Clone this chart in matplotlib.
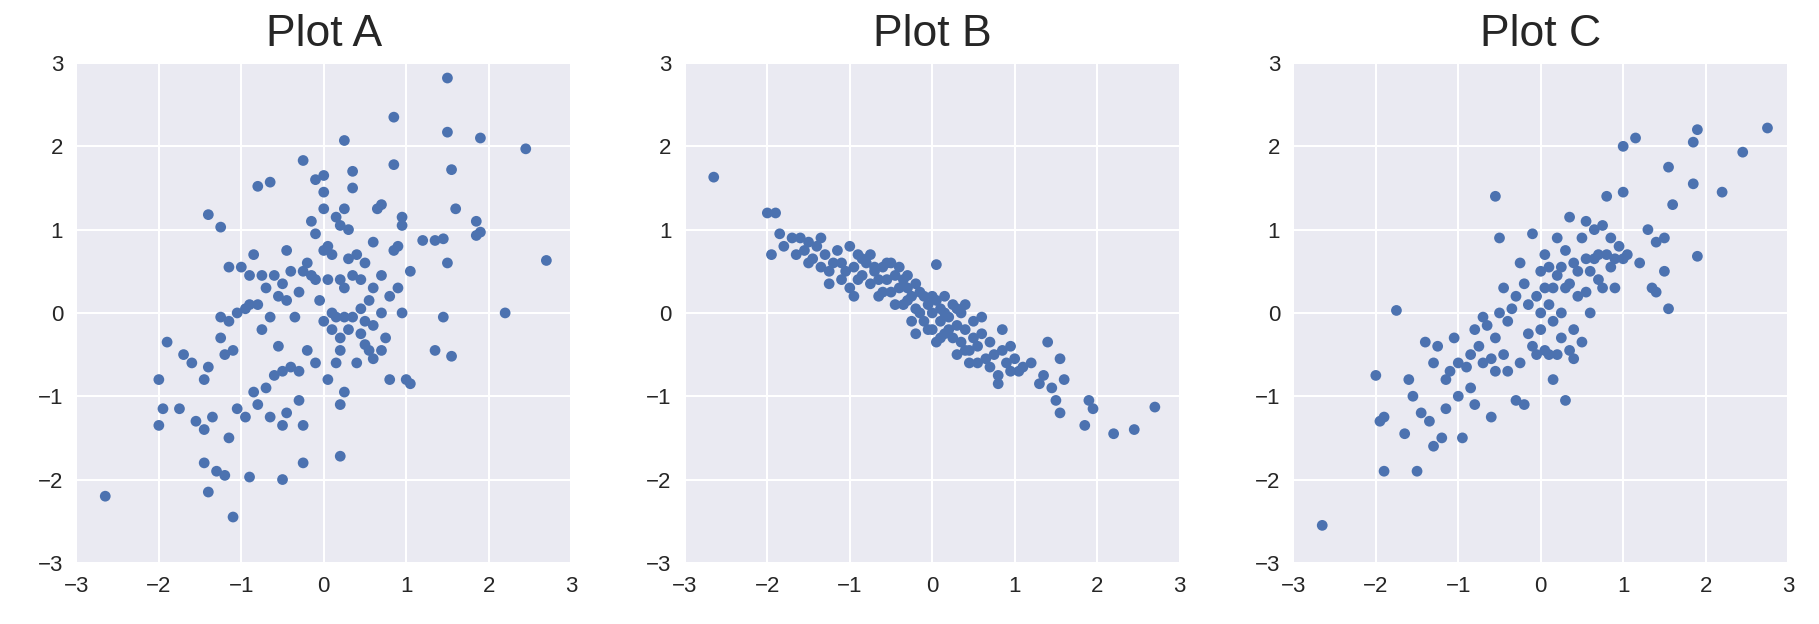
import matplotlib
matplotlib.use("Agg")
import matplotlib.pyplot as plt
import seaborn as sns

# ==============================================================================
# DATA
# ==============================================================================

a_pts = [(-2.65,-2.2),(-1.1,-2.45),(-1.4,-2.15),(-1.45,-1.8),(-1.3,-1.9),(-1.2,-1.95),(-0.9,-1.97),
         (-0.5,-2.0),(-0.25,-1.8),(0.2,-1.72),(-2.0,-1.35),(-1.95,-1.15),(-1.75,-1.15),(-1.55,-1.3),
         (-1.45,-1.4),(-1.35,-1.25),(-1.15,-1.5),(-1.05,-1.15),(-0.95,-1.25),(-0.8,-1.1),(-0.85,-0.95),
         (-0.7,-0.9),(-0.65,-1.25),(-0.5,-1.35),(-0.45,-1.2),(-0.3,-1.05),(-0.25,-1.35),(-0.4,-0.65),
         (-0.5,-0.7),(-0.6,-0.75),(-0.3,-0.7),(-0.2,-0.45),(-0.1,-0.6),(0.05,-0.8),(-2.0,-0.8),(-1.9,-0.35),
         (-1.7,-0.5),(-1.6,-0.6),(-1.4,-0.65),(-1.2,-0.5),(-1.1,-0.45),(-1.25,-0.3),(-1.15,-0.1),(-1.05,0.0),
         (-0.9,0.1),(-0.95,0.05),(-0.75,-0.2),(-0.65,-0.05),(-0.55,0.2),(-0.45,0.15),(-0.35,-0.05),(-0.3,0.25),
         (-1.25,-0.05),(-1.45,-0.8),(-1.4,1.18),(-1.25,1.03),(-1.15,0.55),(-1.0,0.55),(-0.9,0.45),(-0.85,0.7),
         (-0.75,0.45),(-0.6,0.45),(-0.5,0.35),(-0.45,0.75),(-0.4,0.5),(-0.8,1.52),(-0.65,1.57),(-0.25,1.83),
         (-0.1,1.6),(-0.15,1.1),(-0.1,0.95),(0.0,0.75),(0.05,0.8),(0.1,0.7),(-0.2,0.6),(-0.25,0.5),(-0.15,0.45),
         (-0.1,0.4),(0.0,1.25),(0.0,1.45),(0.0,1.65),(0.15,1.15),(0.2,1.05),(0.25,1.25),(0.3,1.0),(0.35,1.5),
         (0.35,1.7),(0.25,2.07),(0.85,2.35),(0.35,0.45),(0.3,0.65),(0.25,0.3),(0.45,0.4),(0.5,0.6),(0.6,0.85),
         (0.65,1.25),(0.7,1.3),(0.85,0.75),(0.9,0.8),(0.85,1.78),(0.95,1.15),(0.95,1.05),(1.05,0.5),(1.2,0.87),
         (1.35,0.87),(1.45,0.89),(1.5,0.6),(1.5,2.17),(1.55,1.72),(1.6,1.25),(1.85,1.1),(1.85,0.93),(1.9,0.97),
         (1.9,2.1),(1.5,2.82),(2.45,1.97),(2.7,0.63),(2.2,0.0),(1.45,-0.05),(1.35,-0.45),(1.55,-0.52),(1.0,-0.8),
         (1.05,-0.85),(0.7,-0.45),(0.75,-0.3),(0.55,-0.45),(0.5,-0.38),(0.45,-0.25),(0.35,-0.05),(0.25,-0.05),
         (0.15,-0.05),(0.1,0.0),(0.0,-0.1),(0.2,-0.3),(0.2,-0.45),(0.15,-0.6),(0.25,-0.95),(0.2,-1.1),(0.4,-0.6),
         (0.5,-0.1),(0.6,-0.15),(0.7,0.0),(0.8,0.2),(0.95,0.0),(0.9,0.3),(0.7,0.45),(0.6,0.3),(0.45,0.05),
         (-0.05,0.15),(0.05,0.4),(0.2,0.4),(0.4,0.7),(0.55,0.15),(0.3,-0.2),(0.6,-0.55),(0.8,-0.8),(-0.8,0.1),
         (-0.7,0.3),(-0.55,-0.4),(0.1,-0.2)]

b_pts = [(-2.65,1.63),(-2.0,1.2),(-1.9,1.2),(-1.95,0.7),(-1.85,0.95),(-1.7,0.9),(-1.6,0.9),(-1.55,0.75),
         (-1.5,0.85),(-1.45,0.65),(-1.4,0.8),(-1.35,0.55),(-1.3,0.7),(-1.25,0.5),(-1.2,0.6),(-1.15,0.75),
         (-1.1,0.6),(-1.05,0.5),(-1.0,0.8),(-1.0,0.3),(-0.95,0.55),(-0.9,0.7),(-0.85,0.45),(-0.8,0.6),
         (-0.75,0.35),(-0.75,0.7),(-0.7,0.5),(-0.65,0.2),(-0.6,0.55),(-0.55,0.4),(-0.5,0.6),(-0.5,0.25),
         (-0.45,0.45),(-0.4,0.3),(-0.4,0.55),(-0.35,0.1),(-0.3,0.3),(-0.3,0.45),(-0.25,0.2),(-0.2,0.05),
         (-0.2,0.35),(-0.15,0.0),(-0.1,0.2),(-0.1,-0.1),(-0.05,0.1),(0.0,0.0),(0.0,-0.2),(0.05,0.15),(0.05,0.58),
         (0.1,-0.1),(0.1,0.05),(0.15,-0.25),(0.15,0.2),(0.2,-0.05),(0.25,0.1),(0.25,-0.3),(0.3,-0.15),(0.35,0.0),
         (0.35,-0.35),(0.4,-0.2),(0.45,-0.45),(0.45,-0.6),(0.5,-0.3),(0.5,-0.1),(0.55,-0.4),(0.6,-0.25),
         (0.65,-0.55),(0.7,-0.35),(0.75,-0.5),(0.8,-0.75),(0.8,-0.85),(0.85,-0.45),(0.9,-0.6),(0.95,-0.7),
         (1.0,-0.55),(1.05,-0.7),(1.2,-0.6),(1.3,-0.85),(1.35,-0.75),(1.4,-0.35),(1.45,-0.9),(1.5,-1.05),
         (1.55,-0.55),(1.55,-1.2),(1.6,-0.8),(1.85,-1.35),(1.9,-1.05),(1.95,-1.15),(2.2,-1.45),(2.45,-1.4),
         (2.7,-1.13),(-1.8,0.8),(-1.65,0.7),(-1.35,0.9),(-1.25,0.35),(-1.1,0.4),(-0.95,0.2),(-0.85,0.65),
         (-0.7,0.55),(-0.65,0.4),(-0.6,0.25),(-0.55,0.6),(-0.45,0.1),(-0.35,0.4),(-0.25,-0.1),(-0.15,0.25),
         (-0.05,-0.2),(0.0,0.2),(0.1,-0.3),(0.2,-0.2),(0.3,0.05),(0.4,-0.45),(0.55,-0.6),(0.6,-0.05),(0.7,-0.65),
         (0.85,-0.2),(0.95,-0.4),(1.1,-0.65),(0.05,-0.35),(-0.3,0.15),(0.15,0.0),(0.3,-0.5),(-0.9,0.4),
         (-1.5,0.6),(-0.2,-0.25),(0.4,0.1)]

c_pts = [(-2.65,-2.55),(-2.0,-0.75),(-1.95,-1.3),(-1.9,-1.9),(-1.9,-1.25),(-1.75,0.03),(-1.65,-1.45),
         (-1.55,-1.0),(-1.5,-1.9),(-1.45,-1.2),(-1.4,-0.35),(-1.35,-1.3),(-1.3,-1.6),(-1.25,-0.4),(-1.2,-1.5),
         (-1.15,-0.8),(-1.1,-0.7),(-1.05,-0.3),(-1.0,-1.0),(-1.0,-0.6),(-0.95,-1.5),(-0.9,-0.65),(-0.85,-0.5),
         (-0.8,-1.1),(-0.75,-0.4),(-0.7,-0.6),(-0.65,-0.15),(-0.6,-1.25),(-0.55,-0.3),(-0.55,1.4),(-0.5,0.9),
         (-0.5,0.0),(-0.45,-0.5),(-0.4,-0.1),(-0.35,0.05),(-0.3,-1.05),(-0.3,0.2),(-0.25,-0.6),(-0.2,-1.1),
         (-0.2,0.35),(-0.15,-0.25),(-0.1,-0.4),(-0.1,0.95),(-0.05,0.2),(0.0,-0.2),(0.0,0.5),(0.05,0.7),
         (0.05,-0.45),(0.1,0.1),(0.1,-0.5),(0.15,0.3),(0.15,-0.8),(0.2,0.45),(0.2,-0.5),(0.25,0.55),(0.25,0.0),
         (0.3,-1.05),(0.3,0.75),(0.3,0.3),(0.35,-0.45),(0.35,1.15),(0.4,0.6),(0.4,-0.2),(0.45,0.2),(0.5,0.9),
         (0.55,1.1),(0.6,0.5),(0.65,0.65),(0.7,0.4),(0.75,1.05),(0.75,0.3),(0.8,0.7),(0.8,1.4),(0.85,0.55),
         (0.9,0.65),(0.95,0.8),(1.0,2.0),(1.0,1.45),(1.05,0.7),(1.15,2.1),(1.2,0.6),(1.3,1.0),(1.35,0.3),
         (1.4,0.25),(1.4,0.85),(1.5,0.9),(1.5,0.5),(1.55,1.75),(1.55,0.05),(1.6,1.3),(1.85,2.05),(1.9,2.2),
         (1.85,1.55),(1.9,0.68),(2.2,1.45),(2.45,1.93),(2.75,2.22),(-1.3,-0.6),(-1.15,-1.15),(-0.85,-0.9),
         (-0.7,-0.05),(-0.6,-0.55),(-0.45,0.3),(-0.4,-0.7),(-0.25,0.6),(-0.15,0.1),(0.0,0.0),(0.05,0.3),
         (0.1,0.55),(0.15,-0.1),(0.2,0.9),(0.25,-0.3),(0.35,0.35),(0.45,0.5),(0.55,0.25),(0.6,0.0),(0.65,1.0),
         (0.7,0.7),(0.85,0.9),(1.0,0.65),(-0.05,-0.5),(0.4,-0.55),(-0.55,-0.7),(-0.8,-0.2),(0.5,-0.35),
         (0.9,0.3),(-1.6,-0.8),(0.55,0.65)]

titles = ['Plot A', 'Plot B', 'Plot C']
ticks = [-3, -2, -1, 0, 1, 2, 3]

# ==============================================================================
# FIGURE
# ==============================================================================

sns.set_theme(style='darkgrid')
plt.rcParams['font.family'] = ['Liberation Sans', 'DejaVu Sans']

fig, axes = plt.subplots(1, 3, figsize=(18.19, 6.24), dpi=100)
fig.subplots_adjust(left=0.042, right=0.983, top=0.899, bottom=0.098, wspace=0.23)

for ax, pts, title in zip(axes, [a_pts, b_pts, c_pts], titles):
    xs = [p[0] for p in pts]
    ys = [p[1] for p in pts]
    ax.scatter(xs, ys, s=60, color='#4c72b0', edgecolors='none')
    ax.set_xlim(-3, 3)
    ax.set_ylim(-3, 3)
    ax.set_xticks(ticks)
    ax.set_yticks(ticks)
    ax.tick_params(labelsize=16)
    ax.grid(True, color='white', linewidth=1.5)
    ax.set_title(title, fontsize=32, pad=12)

plt.savefig('out.png', dpi=100)
